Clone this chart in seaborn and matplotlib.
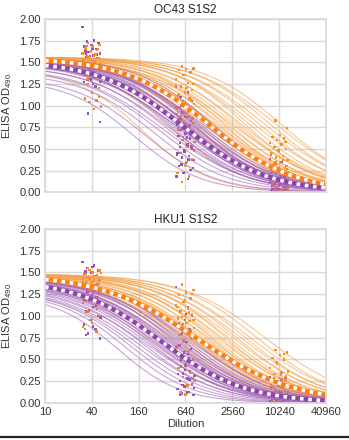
import numpy as np
import pandas as pd
import seaborn as sns
import matplotlib.pyplot as plt
from matplotlib.lines import Line2D

# ---- data ----
panels = ['OC43 S1S2', 'HKU1 S1S2']
groups = ['A', 'B']          # A = purple, B = orange
dilutions = [40, 640, 10240]
x_ticks = [10, 40, 160, 640, 2560, 10240, 40960]
x_labels = ['10', '40', '160', '640', '2560', '10240', '40960']

# individual fitted curves (top, ec50, hill)
oc43_a_ec50 = [140, 190, 250, 300, 340, 380, 410, 440, 470, 500, 520, 540, 560, 580, 600,
               620, 640, 660, 690, 720, 750, 780, 820, 860, 900, 950, 1000, 1100, 1250, 1450]
oc43_a_top = [1.30, 1.33, 1.38, 1.42, 1.44, 1.46, 1.47, 1.48, 1.49, 1.50, 1.50, 1.51, 1.51, 1.52, 1.52,
              1.52, 1.53, 1.53, 1.53, 1.53, 1.54, 1.54, 1.54, 1.54, 1.55, 1.55, 1.55, 1.55, 1.55, 1.56]
oc43_a_hill = [1.0, 0.95, 0.9, 0.85, 0.8, 0.85, 0.8, 0.9, 0.85, 0.8, 0.75, 0.85, 0.8, 0.9, 0.8,
               0.85, 0.75, 0.8, 0.9, 0.85, 0.8, 0.75, 0.85, 0.9, 0.8, 0.85, 0.8, 0.75, 0.8, 0.85]

oc43_b_ec50 = [180, 420, 600, 750, 850, 950, 1050, 1150, 1250, 1350, 1450, 1550, 1650, 1750, 1900,
               2050, 2200, 2400, 2600, 2800, 3100, 3400, 3800, 4300, 5000, 5800, 6800, 8000, 9500, 11000]
oc43_b_top = [1.42, 1.48, 1.50, 1.51, 1.52, 1.52, 1.53, 1.53, 1.53, 1.54, 1.54, 1.54, 1.54, 1.55, 1.55,
              1.55, 1.55, 1.55, 1.55, 1.56, 1.56, 1.56, 1.56, 1.56, 1.56, 1.56, 1.56, 1.56, 1.56, 1.56]
oc43_b_hill = [1.0, 0.9, 0.85, 0.8, 0.9, 0.85, 0.8, 0.75, 0.85, 0.8, 0.9, 0.8, 0.75, 0.85, 0.8,
               0.9, 0.8, 0.85, 0.75, 0.8, 0.85, 0.8, 0.9, 0.85, 0.8, 0.85, 0.8, 0.85, 0.8, 0.85]

hku1_a_ec50 = [85, 110, 130, 150, 170, 190, 205, 220, 235, 250, 265, 280, 295, 310, 325,
               340, 360, 380, 400, 420, 445, 470, 500, 530, 570, 610, 660, 720, 800, 900]
hku1_a_top = [1.25, 1.27, 1.29, 1.30, 1.32, 1.33, 1.34, 1.35, 1.36, 1.37, 1.38, 1.38, 1.39, 1.40, 1.40,
              1.41, 1.41, 1.42, 1.42, 1.42, 1.43, 1.43, 1.43, 1.44, 1.44, 1.44, 1.45, 1.45, 1.45, 1.45]
hku1_a_hill = [1.05, 1.0, 0.95, 0.9, 0.85, 0.9, 0.8, 0.85, 0.9, 0.8, 0.85, 0.8, 0.9, 0.85, 0.8,
               0.85, 0.9, 0.8, 0.85, 0.8, 0.9, 0.85, 0.8, 0.85, 0.8, 0.9, 0.85, 0.8, 0.85, 0.8]

hku1_b_ec50 = [250, 350, 450, 520, 600, 660, 720, 780, 840, 900, 960, 1020, 1100, 1180, 1260,
               1350, 1450, 1550, 1700, 1850, 2000, 2200, 2400, 2700, 3000, 3400, 3900, 4500, 5500, 7000]
hku1_b_top = [1.38, 1.40, 1.41, 1.42, 1.42, 1.43, 1.43, 1.44, 1.44, 1.44, 1.45, 1.45, 1.45, 1.45, 1.46,
              1.46, 1.46, 1.46, 1.47, 1.47, 1.47, 1.47, 1.47, 1.48, 1.48, 1.48, 1.48, 1.48, 1.48, 1.48]
hku1_b_hill = [0.9, 0.85, 0.8, 0.9, 0.85, 0.8, 0.75, 0.85, 0.8, 0.9, 0.8, 0.85, 0.75, 0.8, 0.85,
               0.8, 0.9, 0.85, 0.8, 0.85, 0.8, 0.9, 0.85, 0.8, 0.85, 0.8, 0.85, 0.8, 0.85, 0.8]

# group mean fits (top, ec50, hill)
oc43_mean_a = [1.52, 600, 0.8]
oc43_mean_b = [1.55, 1300, 0.8]
hku1_mean_a = [1.42, 310, 0.8]
hku1_mean_b = [1.48, 900, 0.7]

# measured OD at 40 / 640 / 10240
oc43_a_40 = [1.91, 1.75, 1.74, 1.72, 1.70, 1.68, 1.65, 1.62, 1.60, 1.58, 1.56, 1.55, 1.53, 1.52, 1.50,
             1.49, 1.47, 1.46, 1.45, 1.43, 1.42, 1.40, 1.38, 1.36, 1.33, 1.30, 1.27, 1.22, 0.91, 0.81,
             1.66, 1.63, 1.59, 1.57, 1.54, 1.51, 1.48, 1.44, 1.41, 1.39, 1.35, 1.31, 1.28, 1.25, 1.60]
oc43_b_40 = [1.72, 1.70, 1.68, 1.66, 1.64, 1.62, 1.60, 1.58, 1.57, 1.55, 1.53, 1.52, 1.50, 1.49, 1.48,
             1.46, 1.45, 1.43, 1.41, 1.38, 1.35, 1.30, 1.20, 1.15, 1.08, 1.06, 1.04, 0.99, 0.96,
             1.69, 1.65, 1.63, 1.61, 1.59, 1.56, 1.54, 1.51, 1.47, 1.44, 1.40, 1.37, 1.33, 1.25, 1.10]
oc43_a_640 = [1.22, 1.15, 1.10, 1.05, 1.02, 0.98, 0.95, 0.92, 0.90, 0.87, 0.85, 0.82, 0.80, 0.78, 0.75,
              0.72, 0.70, 0.68, 0.65, 0.62, 0.60, 0.58, 0.55, 0.52, 0.50, 0.47, 0.45, 0.42, 0.40, 0.37,
              0.34, 0.30, 0.26, 0.22, 0.18, 0.15,
              1.00, 0.93, 0.88, 0.83, 0.77, 0.73, 0.67, 0.63, 0.57, 0.53, 0.48, 0.43, 0.38, 0.32, 0.28]
oc43_b_640 = [1.45, 1.43, 1.42, 1.41, 1.38, 1.35, 1.30, 1.26, 1.22, 1.18, 1.15, 1.12, 1.08, 1.05, 1.02,
              1.00, 0.97, 0.95, 0.92, 0.90, 0.87, 0.84, 0.80, 0.76, 0.72, 0.68, 0.64, 0.58, 0.52, 0.45,
              0.38, 0.30, 0.22, 0.18, 0.12,
              1.25, 1.20, 1.13, 1.06, 1.01, 0.98, 0.93, 0.88, 0.85, 0.78, 0.74, 0.66, 0.60, 0.48, 0.35]
oc43_a_10240 = [0.38, 0.35, 0.32, 0.30, 0.28, 0.26, 0.24, 0.22, 0.20, 0.18, 0.16, 0.15, 0.13, 0.12,
                0.11, 0.10, 0.09, 0.08, 0.07, 0.06, 0.05, 0.05, 0.04, 0.03, 0.03, 0.02, 0.02, 0.01,
                0.33, 0.27, 0.23, 0.19, 0.17, 0.14, 0.12, 0.10, 0.08, 0.06, 0.04, 0.03, 0.02, 0.01, 0.00]
oc43_b_10240 = [0.83, 0.74, 0.66, 0.64, 0.62, 0.60, 0.57, 0.55, 0.52, 0.50, 0.47, 0.45, 0.42, 0.40,
                0.37, 0.34, 0.31, 0.28, 0.25, 0.22, 0.19, 0.17, 0.15, 0.12, 0.10, 0.08, 0.06, 0.04,
                0.03, 0.02,
                0.58, 0.48, 0.43, 0.38, 0.35, 0.30, 0.27, 0.24, 0.20, 0.16, 0.13, 0.09, 0.07, 0.05, 0.01]

hku1_a_40 = [1.62, 1.58, 1.55, 1.52, 1.50, 1.48, 1.46, 1.44, 1.42, 1.40, 1.38, 1.36, 1.34, 1.32, 1.30,
             1.28, 1.26, 1.24, 1.22, 1.20, 1.17, 1.14, 1.10, 1.05, 1.00, 0.95, 0.90, 0.85, 0.80, 0.74,
             1.56, 1.51, 1.47, 1.43, 1.39, 1.35, 1.31, 1.27, 1.23, 1.18, 1.12, 1.06, 0.98, 0.88, 0.78]
hku1_b_40 = [1.55, 1.52, 1.50, 1.48, 1.47, 1.45, 1.43, 1.42, 1.40, 1.38, 1.37, 1.35, 1.33, 1.31,
             1.29, 1.27, 1.25, 1.22, 1.20, 1.15, 1.10, 1.05, 1.00, 0.92, 0.85, 0.82,
             1.53, 1.49, 1.46, 1.44, 1.41, 1.39, 1.36, 1.34, 1.30, 1.26, 1.21, 1.17, 1.08, 0.95, 0.87]
hku1_a_640 = [1.33, 1.10, 1.05, 1.00, 0.95, 0.90, 0.85, 0.80, 0.75, 0.70, 0.66, 0.62, 0.58, 0.55, 0.52,
              0.49, 0.46, 0.43, 0.40, 0.37, 0.34, 0.31, 0.28, 0.25, 0.22, 0.19, 0.16, 0.13, 0.11, 0.09,
              1.02, 0.92, 0.83, 0.72, 0.64, 0.56, 0.50, 0.45, 0.38, 0.33, 0.27, 0.21, 0.17, 0.12, 0.10]
hku1_b_640 = [1.36, 1.30, 1.27, 1.24, 1.20, 1.16, 1.12, 1.08, 1.05, 1.02, 1.00, 0.97, 0.94, 0.90, 0.86,
              0.82, 0.78, 0.74, 0.70, 0.65, 0.60, 0.55, 0.50, 0.45, 0.40, 0.35, 0.30, 0.25, 0.20, 0.12,
              1.25, 1.18, 1.10, 1.04, 0.99, 0.95, 0.92, 0.88, 0.80, 0.72, 0.63, 0.52, 0.42, 0.28, 0.10]
hku1_a_10240 = [0.30, 0.27, 0.24, 0.22, 0.20, 0.18, 0.16, 0.14, 0.13, 0.12, 0.10, 0.09, 0.08, 0.07,
                0.06, 0.05, 0.04, 0.04, 0.03, 0.02, 0.02, 0.01, 0.01, 0.00,
                0.28, 0.25, 0.21, 0.17, 0.15, 0.11, 0.09, 0.07, 0.05, 0.03, 0.02, 0.01, 0.00]
hku1_b_10240 = [0.61, 0.58, 0.55, 0.52, 0.50, 0.45, 0.40, 0.35, 0.33, 0.31, 0.29, 0.27, 0.25, 0.23,
                0.21, 0.19, 0.17, 0.15, 0.13, 0.11, 0.09, 0.07, 0.05, 0.04, 0.02,
                0.56, 0.47, 0.36, 0.32, 0.28, 0.26, 0.22, 0.20, 0.16, 0.14, 0.12, 0.10, 0.08, 0.05, 0.03]

curve_params = {
    ('OC43 S1S2', 'A'): (oc43_a_top, oc43_a_ec50, oc43_a_hill),
    ('OC43 S1S2', 'B'): (oc43_b_top, oc43_b_ec50, oc43_b_hill),
    ('HKU1 S1S2', 'A'): (hku1_a_top, hku1_a_ec50, hku1_a_hill),
    ('HKU1 S1S2', 'B'): (hku1_b_top, hku1_b_ec50, hku1_b_hill),
}
mean_params = {
    ('OC43 S1S2', 'A'): oc43_mean_a, ('OC43 S1S2', 'B'): oc43_mean_b,
    ('HKU1 S1S2', 'A'): hku1_mean_a, ('HKU1 S1S2', 'B'): hku1_mean_b,
}
point_values = {
    ('OC43 S1S2', 'A'): [oc43_a_40, oc43_a_640, oc43_a_10240],
    ('OC43 S1S2', 'B'): [oc43_b_40, oc43_b_640, oc43_b_10240],
    ('HKU1 S1S2', 'A'): [hku1_a_40, hku1_a_640, hku1_a_10240],
    ('HKU1 S1S2', 'B'): [hku1_b_40, hku1_b_640, hku1_b_10240],
}


def four_pl(x, top, ec50, hill):
    return top / (1 + (x / ec50) ** hill)


grid_x = np.geomspace(10, 40960, 160)

# long tables for seaborn
curve_rows, mean_rows, point_rows = [], [], []
for (panel, grp), (tops, ec50s, hills) in curve_params.items():
    for i, (t, e, h) in enumerate(zip(tops, ec50s, hills)):
        curve_rows.append(pd.DataFrame({'panel': panel, 'group': grp, 'sample': f'{grp}{i}',
                                        'dilution': grid_x, 'od': four_pl(grid_x, t, e, h)}))
    t, e, h = mean_params[(panel, grp)]
    mean_rows.append(pd.DataFrame({'panel': panel, 'group': grp,
                                   'dilution': grid_x, 'od': four_pl(grid_x, t, e, h)}))
    for d, vals in zip(dilutions, point_values[(panel, grp)]):
        k = np.arange(len(vals))
        offset = ((k * 0.618034 + (0.3 if grp == 'B' else 0.0)) % 1 - 0.5) * 0.4
        point_rows.append(pd.DataFrame({'panel': panel, 'group': grp,
                                        'dilution': d * 4.0 ** offset, 'od': vals}))
curves = pd.concat(curve_rows, ignore_index=True)
means = pd.concat(mean_rows, ignore_index=True)
points = pd.concat(point_rows, ignore_index=True)

line_pal = {'A': '#a064bb', 'B': '#f59f45'}
mean_pal = {'A': '#8e44ad', 'B': '#ff7f0e'}
point_pal = {'A': '#9b50b8', 'B': '#ff8a14'}

sns.set_theme(style='whitegrid')
plt.rcParams['font.family'] = ['Liberation Sans', 'DejaVu Sans']
plt.rcParams['mathtext.default'] = 'regular'

fig = plt.figure(figsize=(3.49, 4.40), dpi=100)
ax_top = fig.add_axes([0.129, 0.563, 0.805, 0.394])
ax_bot = fig.add_axes([0.129, 0.084, 0.805, 0.396])

for ax, panel in zip([ax_top, ax_bot], panels):
    sns.lineplot(data=curves[curves.panel == panel], x='dilution', y='od', hue='group',
                 hue_order=['B', 'A'], units='sample', estimator=None, palette=line_pal,
                 lw=0.8, alpha=0.58, legend=False, ax=ax)
    m = means[means.panel == panel]
    sns.lineplot(data=m, x='dilution', y='od', hue='group', hue_order=['A', 'B'],
                 palette=mean_pal, lw=3.2, legend=False, ax=ax)
    for grp in ['A', 'B']:
        mg = m[m.group == grp]
        ax.plot(mg.dilution, mg.od, color='white', lw=2.6, ls=(0, (1, 1.3)))
    sns.scatterplot(data=points[points.panel == panel], x='dilution', y='od', hue='group',
                    hue_order=['B', 'A'], palette=point_pal, marker='s', s=3, linewidth=0,
                    legend=False, ax=ax)

    ax.set_xscale('log')
    ax.set_xlim(10, 40960)
    ax.set_ylim(0, 2)
    ax.set_xticks(x_ticks)
    ax.xaxis.set_minor_locator(plt.NullLocator())
    ax.set_yticks(np.arange(0, 2.01, 0.25))
    ax.set_yticklabels([f'{v:.2f}' for v in np.arange(0, 2.01, 0.25)])
    ax.tick_params(labelsize=8, colors='#333333', pad=3, length=0)
    ax.grid(color='#d9d9d9', lw=1)
    for s in ax.spines.values():
        s.set_color('#d9d9d9')
    ax.set_title(panel, fontsize=8.5, color='#222222', pad=4)
    ax.set_ylabel('ELISA OD$_{490}$', fontsize=8, color='#333333')
    ax.yaxis.set_label_coords(-0.11, 0.5)

ax_top.set_xticklabels([])
ax_top.set_xlabel('')
ax_bot.set_xticklabels(x_labels)
ax_bot.set_xlabel('Dilution', fontsize=8, color='#333333', labelpad=1)

fig.add_artist(Line2D([0, 1], [0.007, 0.007], color='#222222', lw=1.6))

fig.savefig('out.png', dpi=100)
